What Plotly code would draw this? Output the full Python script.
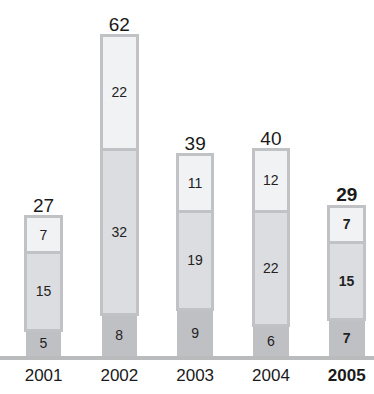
import plotly.graph_objects as go

years = ["2001", "2002", "2003", "2004", "2005"]
bottom = [5, 8, 9, 6, 7]
middle = [15, 32, 19, 22, 15]
top = [7, 22, 11, 12, 7]
totals = [27, 62, 39, 40, 29]

x = list(range(len(years)))
bold_last = lambda vals: [str(v) if i < len(vals) - 1 else f"<b>{v}</b>" for i, v in enumerate(vals)]

border = "#c1c2c5"
text_font = dict(family="Liberation Sans, Arial, sans-serif", size=14, color="#222222")

fig = go.Figure()
fig.add_trace(go.Bar(
    x=x, y=bottom, width=0.47,
    marker=dict(color="#bfc0c3", line=dict(width=0)),
    text=bold_last(bottom), textposition="inside", insidetextanchor="middle",
    textangle=0, textfont=text_font,
))
fig.add_trace(go.Bar(
    x=x, y=middle, width=0.47,
    marker=dict(color="#dcdde0", line=dict(color=border, width=3)),
    text=bold_last(middle), textposition="inside", insidetextanchor="middle",
    textangle=0, textfont=text_font,
))
fig.add_trace(go.Bar(
    x=x, y=top, width=0.47,
    marker=dict(color="#f1f2f4", line=dict(color=border, width=3)),
    text=bold_last(top), textposition="inside", insidetextanchor="middle",
    textangle=0, textfont=text_font,
))
fig.add_trace(go.Scatter(
    x=x, y=totals, mode="text",
    text=bold_last(totals), textposition="top center",
    textfont=dict(family="Liberation Sans, Arial, sans-serif", size=19, color="#1a1a1a"),
    cliponaxis=False,
))

fig.update_layout(
    width=374, height=394,
    margin=dict(l=0, r=0, t=0, b=38),
    barmode="stack",
    showlegend=False,
    plot_bgcolor="white", paper_bgcolor="white",
    uniformtext=dict(mode=False),
    xaxis=dict(
        range=[-0.575, 4.36],
        tickmode="array", tickvals=x, ticktext=bold_last(years),
        tickfont=dict(family="Liberation Sans, Arial, sans-serif", size=17, color="#1a1a1a"),
        showline=True, linecolor="#b9bbbd", linewidth=4,
        showgrid=False, zeroline=False, ticks="",
        ticklabelstandoff=1,
    ),
    yaxis=dict(range=[0, 68.9], visible=False, fixedrange=True),
)

fig.write_html("out.html")
